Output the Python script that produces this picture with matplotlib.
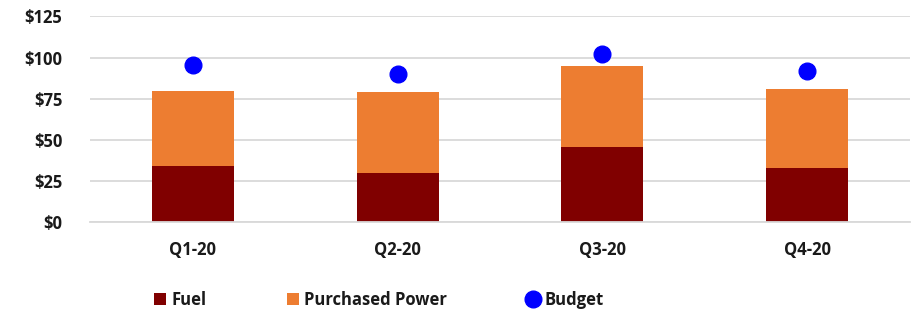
import matplotlib.pyplot as plt
import numpy as np

# -----------------------------
# Data
# -----------------------------
quarters = ["Q1-20", "Q2-20", "Q3-20", "Q4-20"]
fuel = [34.3, 29.9, 45.7, 33.1]
purchased_power = [45.6, 49.1, 49.4, 48.0]
budget = [95.4, 89.9, 102.4, 91.6]

# -----------------------------
# Style
# -----------------------------
plt.rcParams["font.family"] = ["Open Sans", "DejaVu Sans"]
plt.rcParams["font.weight"] = "bold"
text_color = "#1a1a1a"
grid_color = "#d9d9d9"

fig = plt.figure(figsize=(9.15, 3.17), dpi=100)
ax = fig.add_axes([0.0984, 0.2997, 0.8961, 0.6483])

x = np.arange(len(quarters))
width = 0.4

ax.bar(x, fuel, width, color="#800000", label="Fuel", zorder=2)
ax.bar(x, purchased_power, width, bottom=fuel, color="#ED7D31",
       label="Purchased Power", zorder=2)
ax.plot(x, budget, "o", color="#0000FF", markersize=12, label="Budget", zorder=3)

ax.set_xlim(-0.5, len(quarters) - 0.5)
ax.set_ylim(0, 125)
ax.set_yticks(np.arange(0, 126, 25))
ax.set_yticklabels([f"${v}" for v in range(0, 126, 25)])
ax.set_xticks(x)
ax.set_xticklabels(quarters)

ax.yaxis.grid(True, color=grid_color, linewidth=1.3, zorder=0)
ax.set_axisbelow(True)
for side in ["top", "right", "left"]:
    ax.spines[side].set_visible(False)
ax.spines["bottom"].set_color(grid_color)
ax.spines["bottom"].set_linewidth(1.3)

ax.tick_params(axis="both", length=0, labelsize=12, colors=text_color)
ax.tick_params(axis="x", pad=14)
ax.tick_params(axis="y", pad=20)
for lbl in ax.get_xticklabels() + ax.get_yticklabels():
    lbl.set_fontweight("bold")

handles, labels = ax.get_legend_handles_labels()
order = [1, 2, 0]
handles = [handles[i] for i in order]
labels = [labels[i] for i in order]
leg = fig.legend(handles, labels, loc="center", bbox_to_anchor=(0.414, 0.055),
                 ncol=3, frameon=False, fontsize=12, handlelength=0.75,
                 handleheight=0.75, handletextpad=0.3, columnspacing=4.8)
for t in leg.get_texts():
    t.set_color(text_color)
    t.set_fontweight("bold")

fig.savefig("out.png", dpi=100)
